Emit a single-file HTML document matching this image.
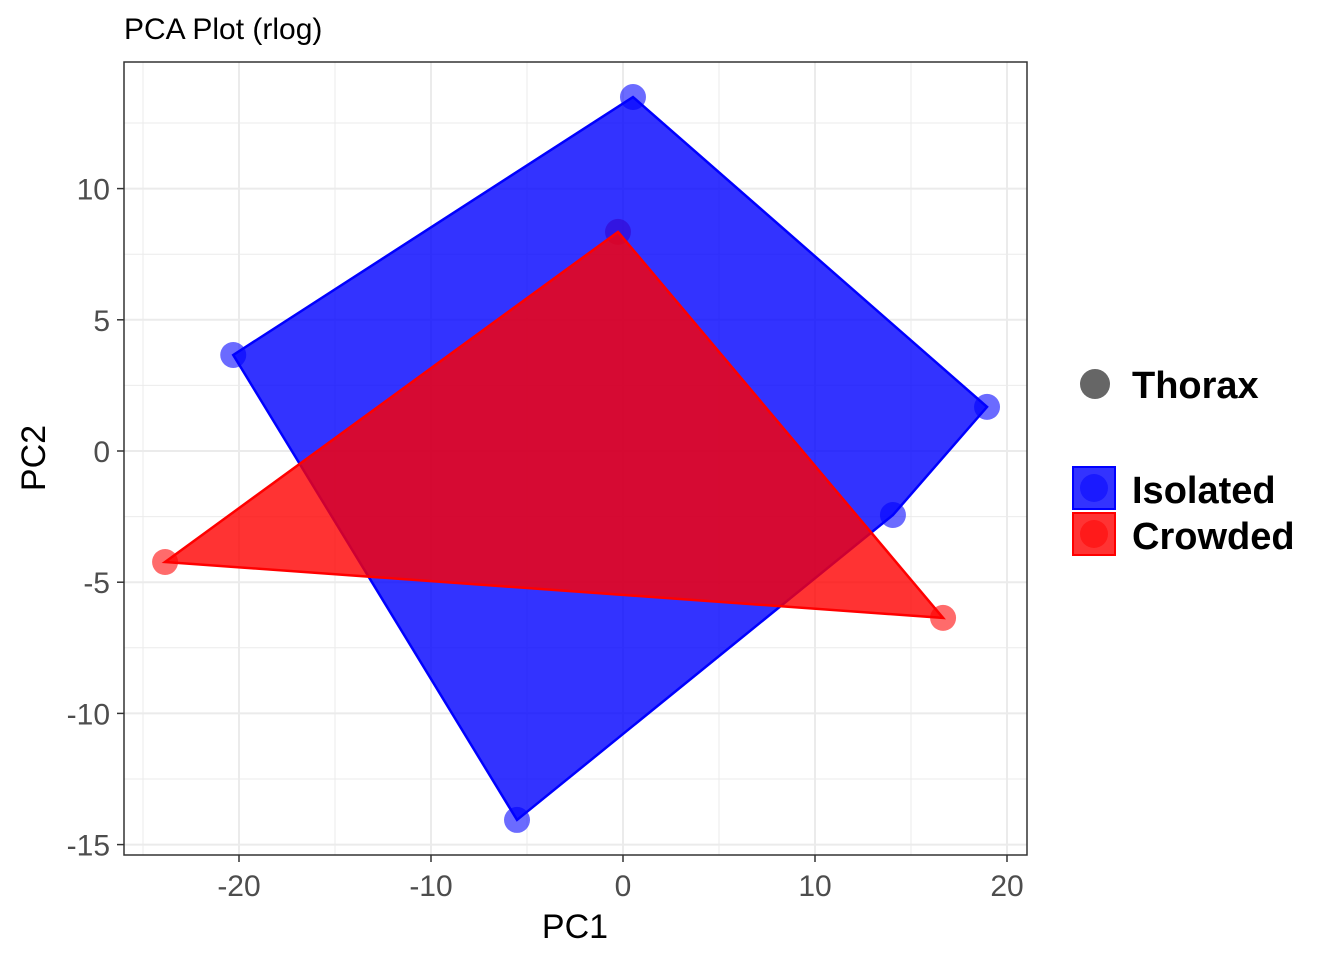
<!DOCTYPE html>
<html><head><meta charset="utf-8"><style>
body{margin:0;background:#fff;}
text{font-family:"Liberation Sans",Arial,sans-serif;}
</style></head><body>
<svg id="chart" width="1344" height="960" xmlns="http://www.w3.org/2000/svg">
<text x="124" y="39" font-size="30" fill="#000">PCA Plot (rlog)</text>
<g id="grid"></g>
<g id="pts"></g>
<g id="polys"></g>
<rect x="124" y="62" width="903" height="793" fill="none" stroke="#333" stroke-width="1.5"/>
<g id="axes"></g>
<text x="575" y="938" font-size="34" text-anchor="middle">PC1</text>
<text transform="translate(45,458) rotate(-90)" font-size="34" text-anchor="middle">PC2</text>
<g>
<circle cx="1095" cy="384" r="15" fill="#666"/>
<text x="1132" y="398" font-size="38" font-weight="bold">Thorax</text>
<rect x="1073" y="467" width="42" height="42" fill="rgba(0,0,255,0.8)" stroke="#00f" stroke-width="2"/>
<circle cx="1094" cy="488" r="14" fill="rgba(20,20,255,0.8)"/>
<text x="1132" y="503" font-size="38" font-weight="bold">Isolated</text>
<rect x="1073" y="513" width="42" height="42" fill="rgba(255,0,0,0.8)" stroke="#f00" stroke-width="2"/>
<circle cx="1094" cy="534" r="14" fill="rgba(255,20,20,0.8)"/>
<text x="1132" y="549" font-size="38" font-weight="bold">Crowded</text>
</g>
</svg>
<script>
const xTicks=[-20,-10,0,10,20];
const yTicks=[10,5,0,-5,-10,-15];
const isolatedPC1=[0.52,18.96,14.06,-5.52,-20.3];
const isolatedPC2=[13.49,1.68,-2.44,-14.06,3.66];
const crowdedPC1=[-0.26,16.67,-23.85];
const crowdedPC2=[8.35,-6.36,-4.23];
const NS="http://www.w3.org/2000/svg";
const sx=v=>623+v*19.2, sy=v=>451-v*26.24;
function mk(t,a,p){const e=document.createElementNS(NS,t);for(const k in a)e.setAttribute(k,a[k]);p.appendChild(e);return e;}
const grid=document.getElementById('grid'),axes=document.getElementById('axes');
mk('rect',{x:124,y:62,width:903,height:793,fill:'#fff'},grid);
for(let v=-25;v<=20;v+=5){const x=sx(v);if(x<124||x>1027)continue;const l=mk('line',{x1:x,x2:x,y1:62,y2:855,stroke:'#ebebeb','stroke-width':v%10===0?2:1},grid);

}
for(let v=-15;v<=12.5;v+=2.5){const y=sy(v);if(y<62||y>855)continue;const l=mk('line',{x1:124,x2:1027,y1:y,y2:y,stroke:'#ebebeb','stroke-width':v%5===0?2:1},grid);

}
xTicks.forEach(v=>{const x=sx(v);mk('line',{x1:x,x2:x,y1:855,y2:862,stroke:'#333','stroke-width':1.5},axes);
const t=mk('text',{x:x,y:896,'font-size':30,'text-anchor':'middle',fill:'#4d4d4d'},axes);t.textContent=v;

});
yTicks.forEach(v=>{const y=sy(v);mk('line',{x1:117,x2:124,y1:y,y2:y,stroke:'#333','stroke-width':1.5},axes);
const t=mk('text',{x:110,y:y+11,'font-size':30,'text-anchor':'end',fill:'#4d4d4d'},axes);t.textContent=v;

});
const polys=document.getElementById('polys'),pts=document.getElementById('pts');
function poly(X,Y,fill,stroke,name){const p=mk('polygon',{points:X.map((x,i)=>sx(x)+','+sy(Y[i])).join(' '),fill:fill,stroke:stroke,'stroke-width':2.5},polys);

}
function dots(X,Y,fill,name){X.forEach((x,i)=>{const c=mk('circle',{cx:sx(x),cy:sy(Y[i]),r:13,fill:fill},pts);

});}
dots(isolatedPC1,isolatedPC2,'rgba(0,0,255,0.58)','isolated-point');
dots(crowdedPC1,crowdedPC2,'rgba(255,0,0,0.58)','crowded-point');
poly(isolatedPC1,isolatedPC2,'rgba(0,0,255,0.8)','#00f','isolated-hull');
poly(crowdedPC1,crowdedPC2,'rgba(255,0,0,0.8)','#f00','crowded-hull');
</script>
</body></html>
